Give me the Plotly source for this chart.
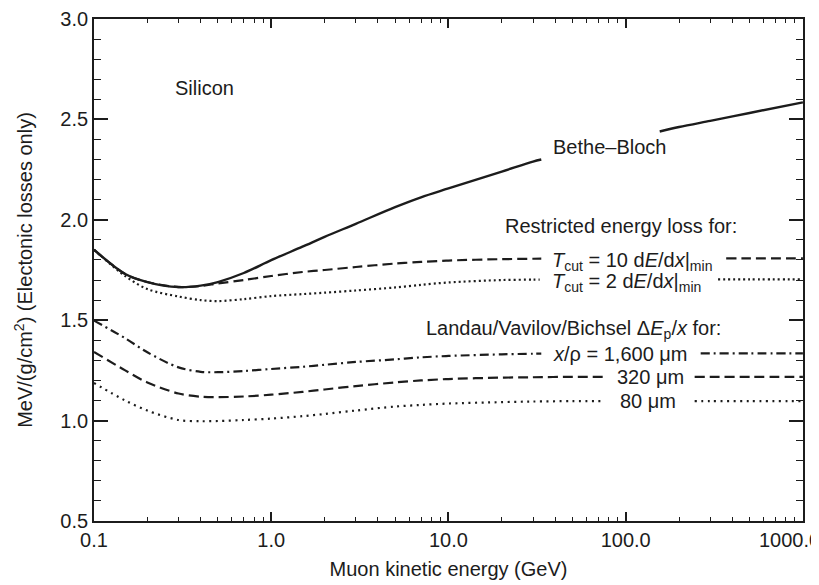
import numpy as np
import plotly.graph_objects as go

# ---------------- data ----------------
energy_gev = [0.1, 0.15, 0.2, 0.3, 0.4, 0.5, 0.7, 1, 1.5, 2, 3, 5, 7, 10, 20, 30, 50,
              100, 200, 300, 500, 1000]

bethe_bloch = [1.851, 1.73, 1.69, 1.665, 1.672, 1.69, 1.735, 1.799, 1.866, 1.915, 1.98,
               2.063, 2.112, 2.156, 2.24, 2.29, 2.34, 2.40, 2.462, 2.493, 2.532, 2.585]

restricted_10 = [1.851, 1.73, 1.69, 1.665, 1.67, 1.683, 1.70, 1.72, 1.74, 1.75, 1.765,
                 1.782, 1.79, 1.797, 1.804, 1.806, 1.808, 1.808, 1.808, 1.808, 1.808, 1.808]

restricted_2 = [1.851, 1.72, 1.655, 1.618, 1.600, 1.595, 1.605, 1.62, 1.63, 1.637, 1.648,
                1.663, 1.676, 1.688, 1.70, 1.702, 1.703, 1.703, 1.703, 1.703, 1.703, 1.703]

landau_1600 = [1.498, 1.41, 1.34, 1.265, 1.243, 1.241, 1.247, 1.257, 1.268, 1.278, 1.292,
               1.305, 1.315, 1.322, 1.33, 1.333, 1.335, 1.335, 1.335, 1.335, 1.335, 1.335]

landau_320 = [1.342, 1.25, 1.19, 1.135, 1.119, 1.117, 1.12, 1.129, 1.143, 1.155, 1.172,
              1.19, 1.20, 1.207, 1.214, 1.216, 1.218, 1.218, 1.218, 1.218, 1.218, 1.218]

landau_80 = [1.187, 1.10, 1.05, 1.003, 0.997, 0.998, 1.003, 1.01, 1.022, 1.033, 1.05,
             1.07, 1.078, 1.085, 1.092, 1.095, 1.097, 1.097, 1.097, 1.097, 1.097, 1.097]

x_tick_vals = [0.1, 1, 10, 100, 1000]
x_tick_text = ["0.1", "1.0", "10.0", "100.0", "1000.0"]
y_tick_vals = [0.5, 1.0, 1.5, 2.0, 2.5, 3.0]
y_tick_text = ["0.5", "1.0", "1.5", "2.0", "2.5", "3.0"]

# ---------------- helpers ----------------
def with_gap(x, y, gap):
    """Break a curve where a text label sits (gap given in GeV)."""
    lx = np.log10(np.asarray(x, float))
    yy = np.asarray(y, float)
    a, b = gap
    ya = float(np.interp(np.log10(a), lx, yy))
    yb = float(np.interp(np.log10(b), lx, yy))
    xs, ys = [], []
    for xi, yi in zip(x, y):
        if xi < a:
            xs.append(xi); ys.append(yi)
    xs += [a, None, b]
    ys += [ya, None, yb]
    for xi, yi in zip(x, y):
        if xi > b:
            xs.append(xi); ys.append(yi)
    return xs, ys

INK = "#1c1c1c"
FONT = "Liberation Sans, Arial, Helvetica, sans-serif"
FS = 20

series = [
    (bethe_bloch, (33.4, 155.6), "solid", 2.4),
    (restricted_10, (33.4, 369), "10px,5px", 2.2),
    (restricted_2, (32.7, 332), "2px,3px", 2.2),
    (landau_1600, (33.4, 265), "9px,4px,2px,4px", 2.2),
    (landau_320, (77.8, 245), "10px,5px", 2.2),
    (landau_80, (74.5, 245), "2px,4.5px", 2.2),
]

fig = go.Figure()
for vals, gap, dash, w in series:
    xs, ys = with_gap(energy_gev, vals, gap)
    fig.add_trace(go.Scatter(x=xs, y=ys, mode="lines", connectgaps=False,
                             line=dict(color=INK, width=w, dash=dash,
                                       shape="spline", smoothing=0.9),
                             showlegend=False, hoverinfo="skip"))

# plot-area geometry (px) for label placement
L, R, T, B = 86, 795, 11, 513
def px(xp):
    return (xp - L) / (R - L)
def py(yp):
    return (B - yp) / (B - T)

labels = [
    ("Silicon", 196, 80, "center"),
    ("Bethe\u2013Bloch", 601, 139, "center"),
    ("Restricted energy loss for:", 613, 218, "center"),
    ("<i>T</i><sub>cut</sub> = 10 d<i>E</i>/d<i>x</i>|<sub>min</sub>", 542, 253, "left"),
    ("<i>T</i><sub>cut</sub> = 2 d<i>E</i>/d<i>x</i>|<sub>min</sub>", 542, 274, "left"),
    ("Landau/Vavilov/Bichsel \u0394<i>E</i><sub>p</sub>/<i>x</i> for:", 715, 321, "right"),
    ("<i>x</i>/\u03c1 = 1,600 \u03bcm", 612, 346, "center"),
    ("320 \u03bcm", 642, 369, "center"),
    ("80 \u03bcm", 640, 393, "center"),
]
for text, xp, yp, anchor in labels:
    fig.add_annotation(x=px(xp), y=py(yp), xref="paper", yref="paper", text=text,
                       showarrow=False, xanchor=anchor, yanchor="middle",
                       font=dict(family=FONT, size=FS, color=INK))

# the last x tick label sits shifted left so it stays inside the picture
shown_text = x_tick_text[:-1] + [""]
fig.add_annotation(x=px(781), y=py(532), xref="paper", yref="paper", text=x_tick_text[-1],
                   showarrow=False, xanchor="center", yanchor="middle",
                   font=dict(family=FONT, size=FS, color=INK))

minor_x = [m * d for d in (0.1, 1, 10, 100) for m in range(2, 10)]

fig.update_xaxes(type="log", range=[-1, 3.0005],
                 tickmode="array", tickvals=x_tick_vals, ticktext=shown_text,
                 ticks="inside", ticklen=9, tickwidth=1.5, tickcolor=INK,
                 minor=dict(tickmode="array", tickvals=minor_x, ticks="inside",
                            ticklen=4.5, tickwidth=1.3, tickcolor=INK, showgrid=False),
                 showline=True, linecolor=INK, linewidth=1.8, mirror="ticks",
                 showgrid=False, zeroline=False, automargin=False,
                 tickfont=dict(family=FONT, size=FS, color=INK),
                 title=dict(text="Muon kinetic energy (GeV)", standoff=12,
                            font=dict(family=FONT, size=FS, color=INK)))

fig.update_yaxes(range=[0.5, 3.0],
                 tickmode="array", tickvals=y_tick_vals, ticktext=y_tick_text,
                 ticks="inside", ticklen=14, tickwidth=1.5, tickcolor=INK,
                 ticklabeloverflow="allow",
                 minor=dict(dtick=0.1, tick0=0.5, ticks="inside", ticklen=7,
                            tickwidth=1.3, tickcolor=INK, showgrid=False),
                 showline=True, linecolor=INK, linewidth=1.8, mirror="ticks",
                 showgrid=False, zeroline=False, automargin=False,
                 tickfont=dict(family=FONT, size=FS, color=INK),
                 title=dict(text="MeV/(g/cm<sup>2</sup>) (Electonic losses only)", standoff=22,
                            font=dict(family=FONT, size=FS, color=INK)))

fig.update_layout(width=819, height=585,
                  margin=dict(l=L, r=819 - R, t=T, b=585 - B, autoexpand=False),
                  paper_bgcolor="white", plot_bgcolor="white",
                  showlegend=False)

fig.write_html("out.html")
